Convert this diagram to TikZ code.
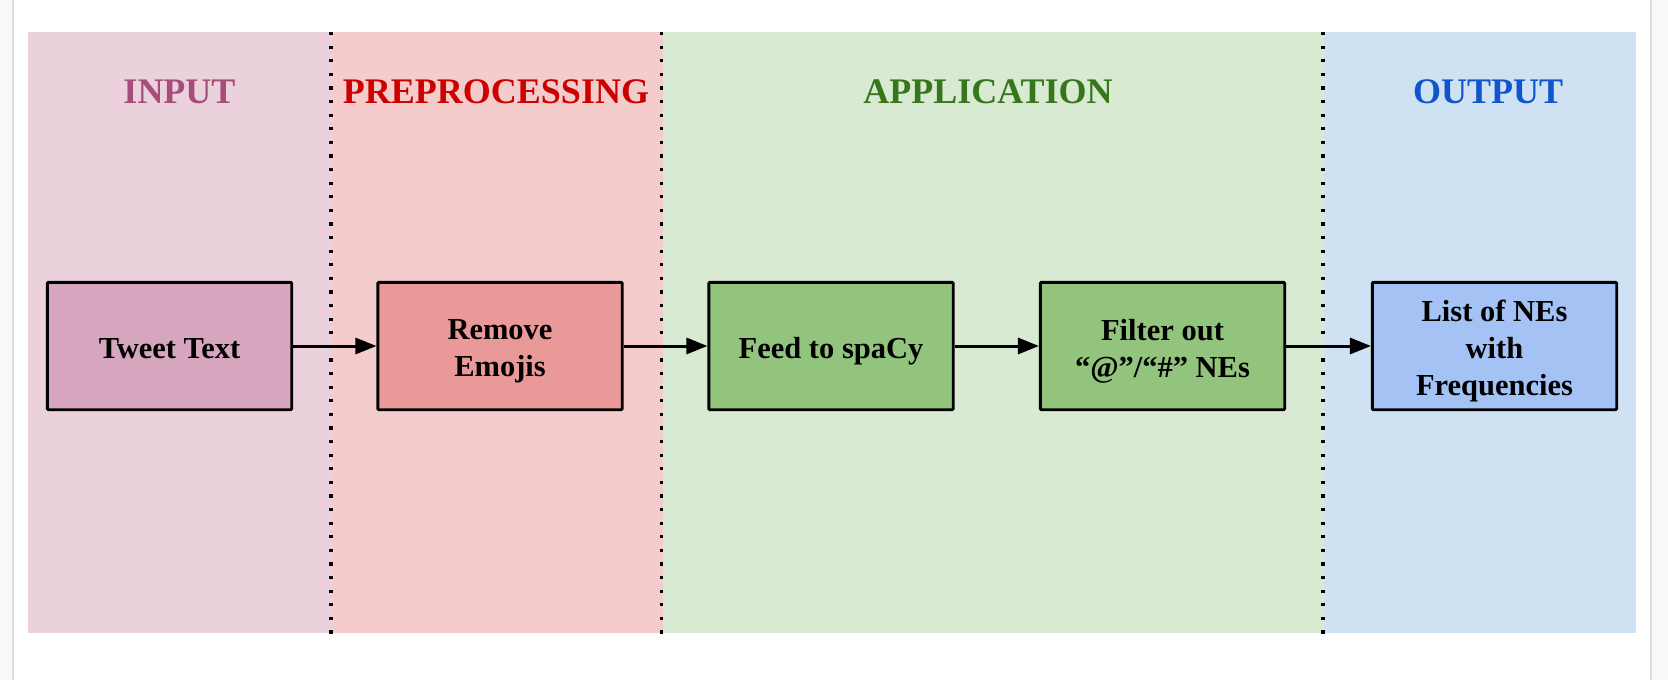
\documentclass[tikz,border=0pt]{standalone}
\usepackage{fontspec}
\setmainfont{Liberation Serif}
\usetikzlibrary{arrows.meta}
\definecolor{bandIn}{HTML}{EAD1DC}
\definecolor{bandPre}{HTML}{F4CCCC}
\definecolor{bandApp}{HTML}{D9EAD3}
\definecolor{bandOut}{HTML}{CFE2F3}
\definecolor{boxIn}{HTML}{D5A6BD}
\definecolor{boxPre}{HTML}{EA9999}
\definecolor{boxApp}{HTML}{93C47D}
\definecolor{boxOut}{HTML}{A4C2F4}
\definecolor{ttlIn}{HTML}{A64D79}
\definecolor{ttlPre}{HTML}{CC0000}
\definecolor{ttlApp}{HTML}{38761D}
\definecolor{ttlOut}{HTML}{1155CC}
\definecolor{frameGray}{HTML}{DADCE0}
\definecolor{outerGray}{HTML}{F8F9FA}
\begin{document}
\begin{tikzpicture}[x=1pt,y=-1pt,
  stagebox/.style={draw=black,line width=2.8pt,minimum width=244.3pt,minimum height=127.3pt,
    inner sep=0pt,rounded corners=1pt},
  stagetext/.style={inner sep=0pt,align=center,font=\fontsize{30.5}{37}\selectfont\bfseries},
  title/.style={font=\fontsize{36}{40}\selectfont\bfseries,anchor=base},
  sep/.style={line width=3.2pt,dash pattern=on 3.2pt off 10.4pt},
  flow/.style={line width=3pt,-{Triangle[length=21pt,width=16pt]}}]
\useasboundingbox (0,0) rectangle (1668,680);
\fill[white] (0,0) rectangle (1668,680);
\fill[outerGray] (0,0) rectangle (12,680);
\fill[outerGray] (1652,0) rectangle (1668,680);
\fill[frameGray] (12,0) rectangle (14,680);
\fill[frameGray] (1650,0) rectangle (1652,680);
% bands
\fill[bandIn] (28,32) rectangle (331.5,633);
\fill[bandPre] (331.5,32) rectangle (662.5,633);
\fill[bandApp] (662.5,32) rectangle (1324,633);
\fill[bandOut] (1324,32) rectangle (1636,633);
% separators
\coordinate (s1t) at (331,32); \coordinate (s1b) at (331,634);
\coordinate (s2t) at (661.5,32); \coordinate (s2b) at (661.5,634);
\coordinate (s3t) at (1323,32); \coordinate (s3b) at (1323,634);
\draw[sep] (s1t) -- (s1b);
\draw[sep] (s2t) -- (s2b);
\draw[sep] (s3t) -- (s3b);
% titles
\node[title,text=ttlIn] (tin) at (179.5,103) {INPUT};
\node[title,text=ttlPre] (tpre) at (496,103) {PREPROCESSING};
\node[title,text=ttlApp] (tapp) at (988,103) {APPLICATION};
\node[title,text=ttlOut] (tout) at (1488,103) {OUTPUT};
% boxes
\node[stagebox,fill=boxIn] (tweet) at (169.5,346) {};
\node[stagebox,fill=boxPre] (remove) at (500,346) {};
\node[stagebox,fill=boxApp] (feed) at (831,346) {};
\node[stagebox,fill=boxApp] (filter) at (1162.5,346) {};
\node[stagebox,fill=boxOut] (list) at (1494.5,346) {};
% box texts
\node[stagetext,yshift=-3pt] (tweet-t) at (tweet.center) {Tweet Text};
\node[stagetext,yshift=-5.3pt] (remove-t) at (remove.center) {Remove\\Emojis};
\node[stagetext,yshift=-5.3pt] (feed-t) at (feed.center) {Feed to spaCy};
\node[stagetext,yshift=-5pt] (filter-t) at (filter.center) {Filter out\\“@”/“\#” NEs};
\node[stagetext,yshift=-5.3pt] (list-t) at (list.center) {List of NEs\\with\\Frequencies};
% arrows
\draw[flow] (tweet.east) -- (remove.west);
\draw[flow] (remove.east) -- (feed.west);
\draw[flow] (feed.east) -- (filter.west);
\draw[flow] (filter.east) -- (list.west);
\end{tikzpicture}
\end{document}
